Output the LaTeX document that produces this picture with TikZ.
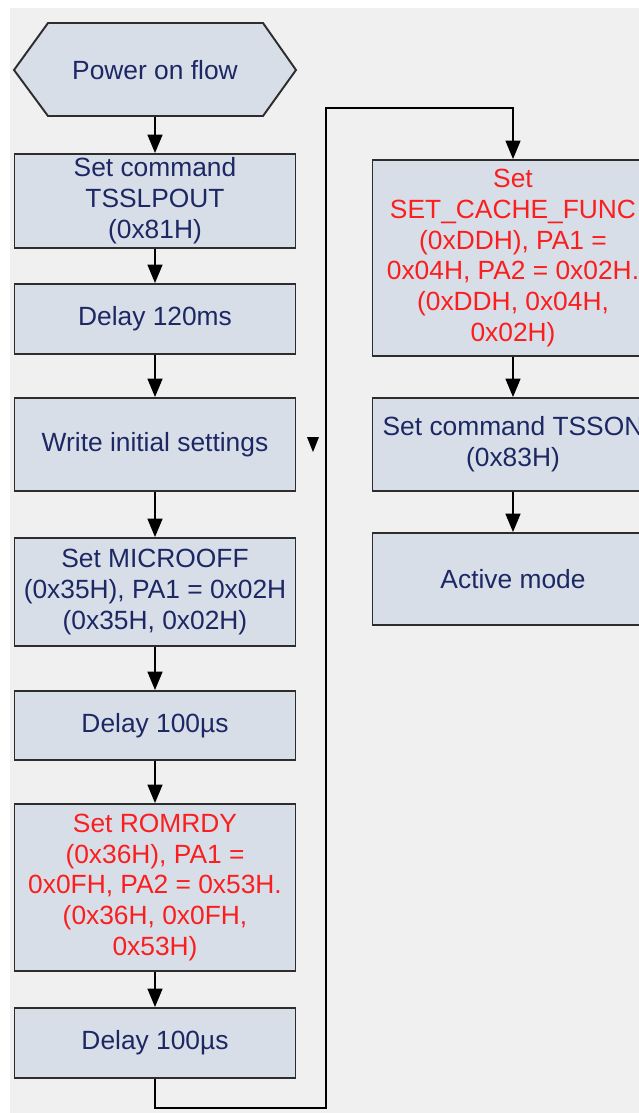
\documentclass[tikz,border=0pt]{standalone}
\usepackage{fontspec}
\setmainfont{Liberation Sans}
\usetikzlibrary{arrows.meta}
\tikzset{
  flowbox/.style={shape=rectangle,draw=flow_line,line width=1.1pt,fill=flow_box,text=flow_text,
    minimum width=5.62cm,align=center,inner sep=1pt,font=\fontsize{15}{17.6}\selectfont},
  redtext/.style={text=flow_red},
  flowarrow/.style={draw=black,line width=1pt,-{Triangle[width=8.5pt,length=10.5pt]}}
}
\begin{document}
\begin{tikzpicture}[x=0.02cm,y=-0.02cm]
    \definecolor{flow_box}{RGB}{216,222,232}
    \definecolor{flow_line}{RGB}{45,45,45}
    \definecolor{flow_text}{RGB}{28,40,100}
    \definecolor{flow_red}{RGB}{250,30,30}
    \definecolor{flow_bg}{RGB}{240,240,240}
    \useasboundingbox (0,0) rectangle (639,1113);
    \clip (0,0) rectangle (639,1113);
    \fill[flow_bg] (10,8) rectangle (639,1113);
    % start symbol
    \draw[draw=flow_line,line width=1.1pt,fill=flow_box] (14,70) -- (48,23) -- (263,23) -- (296,70) -- (263,116) -- (48,116) -- cycle;
    \node[flowbox,draw=none,fill=none,minimum height=93*0.02cm] (pwr) at (155,70) {Power on flow};
    % left column
    \node[flowbox,minimum height=1.88cm] (b1) at (155,201) {Set command\\TSSLPOUT\\(0x81H)};
    \node[flowbox,minimum height=1.40cm] (b2) at (155,319) {Delay 120ms};
    \node[flowbox,minimum height=1.86cm] (b3) at (155,444.5) {Write initial settings};
    \node[flowbox,minimum height=2.16cm] (b4) at (155,592) {Set MICROOFF\\(0x35H), PA1 = 0x02H\\(0x35H, 0x02H)};
    \node[flowbox,minimum height=1.38cm] (b5) at (155,725.5) {Delay 100µs};
    \node[flowbox,redtext,minimum height=3.34cm] (b6) at (155,887.5) {Set ROMRDY\\(0x36H), PA1 =\\0x0FH, PA2 = 0x53H.\\(0x36H, 0x0FH,\\0x53H)};
    \node[flowbox,minimum height=1.40cm] (b7) at (155,1043) {Delay 100µs};
    % right column
    \node[flowbox,redtext,minimum height=3.92cm] (r1) at (513,258) {Set\\SET\_CACHE\_FUNC\\(0xDDH), PA1 =\\0x04H, PA2 = 0x02H.\\(0xDDH, 0x04H,\\0x02H)};
    \node[flowbox,minimum height=1.86cm] (r2) at (513,444.5) {Set command TSSON\\(0x83H)};
    \node[flowbox,minimum height=1.84cm] (r3) at (513,579) {Active mode};
    \coordinate (turnA) at (326,1108);
    \coordinate (turnB) at (326,108);
    \draw[flowarrow] (pwr.south) -- (b1.north);
    \draw[flowarrow] (b1.south) -- (b2.north);
    \draw[flowarrow] (b2.south) -- (b3.north);
    \draw[flowarrow] (b3.south) -- (b4.north);
    \draw[flowarrow] (b4.south) -- (b5.north);
    \draw[flowarrow] (b5.south) -- (b6.north);
    \draw[flowarrow] (b6.south) -- (b7.north);
    \draw[flowarrow] (b7.south) |- (turnA) -- (turnB) -| (r1.north);
    \draw[flowarrow] (r1.south) -- (r2.north);
    \draw[flowarrow] (r2.south) -- (r3.north);
    \fill (307,437) -- (319,437) -- (313,452) -- cycle;
\end{tikzpicture}
\end{document}
